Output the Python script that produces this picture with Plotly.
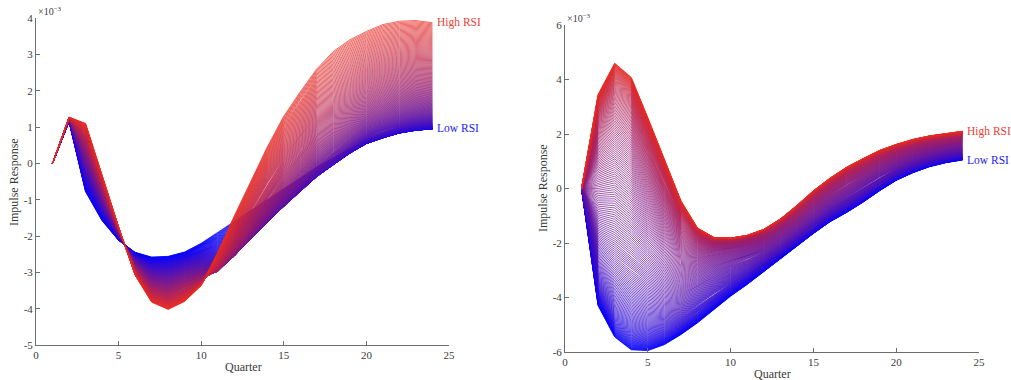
import numpy as np
import plotly.graph_objects as go

# Horizon (quarters after the shock)
quarters = list(range(1, 25))

# Left panel: impulse responses (x 1e-3) at low, middle and high RSI
left_low = [0, 1.15, -0.78, -1.58, -2.12, -2.45, -2.58, -2.56, -2.44, -2.20, -1.90, -1.60,
            -1.30, -1.00, -0.70, -0.40, -0.10, 0.15, 0.40, 0.60, 0.75, 0.87, 0.93, 0.96]
left_mid = [0, 1.21, 0.16, -0.94, -1.93, -2.76, -3.20, -3.29, -3.12, -3.00, -2.95, -2.55,
            -2.05, -1.52, -1.00, -0.50, 0.00, 0.40, 0.78, 1.12, 1.30, 1.45, 1.55, 1.60]
left_high = [0, 1.27, 1.10, -0.30, -1.75, -3.08, -3.82, -4.02, -3.80, -3.36, -2.45, -1.45,
             -0.50, 0.45, 1.30, 1.97, 2.60, 3.08, 3.40, 3.63, 3.82, 3.91, 3.93, 3.87]

# Right panel: impulse responses (x 1e-3) at low, middle and high RSI
right_low = [0, -4.30, -5.45, -5.92, -5.95, -5.73, -5.36, -4.93, -4.44, -3.95, -3.52, -3.05,
             -2.60, -2.10, -1.65, -1.22, -0.88, -0.50, -0.08, 0.30, 0.58, 0.80, 0.95, 1.05]
right_mid = [0, -0.42, -0.42, -0.92, -1.67, -2.34, -2.90, -2.80, -2.60, -2.45, -2.30, -2.10,
             -1.75, -1.36, -0.86, -0.42, -0.05, 0.30, 0.66, 0.96, 1.19, 1.37, 1.49, 1.58]
right_high = [0, 3.45, 4.60, 4.08, 2.60, 1.05, -0.45, -1.45, -1.80, -1.82, -1.72, -1.50,
              -1.12, -0.62, -0.08, 0.38, 0.78, 1.10, 1.40, 1.62, 1.80, 1.93, 2.02, 2.10]

x_ticks = [0, 5, 10, 15, 20, 25]
left_y_ticks = [-5, -4, -3, -2, -1, 0, 1, 2, 3, 4]
right_y_ticks = [-6, -4, -2, 0, 2, 4, 6]

N_LINES = 200
LOW_RGB = np.array([0, 0, 255])
HIGH_RGB = np.array([232, 42, 32])
SERIF = "Liberation Serif"
TEXT_GREY = "#3a3a3a"
W, H = 1011, 380


def transition(s, gamma):
    """Normalised logistic weight on the high-RSI regime."""
    f = 1.0 / (1.0 + np.exp(-gamma * (s - 0.5)))
    lo = 1.0 / (1.0 + np.exp(gamma * 0.5))
    hi = 1.0 / (1.0 + np.exp(-gamma * 0.5))
    return (f - lo) / (hi - lo)


def irf_at(t, low, mid, high):
    low, mid, high = map(np.asarray, (low, mid, high))
    return (low * (1 - t) * (1 - 2 * t)
            + mid * 4 * t * (1 - t)
            + high * t * (2 * t - 1))


fig = go.Figure()
rsi = np.linspace(0.0, 1.0, N_LINES)

panels = [
    ("x", "y", left_low, left_mid, left_high, 1.0),
    ("x2", "y2", right_low, right_mid, right_high, 6.0),
]
for xa, ya, low, mid, high, gamma in panels:
    for s in rsi:
        t = transition(s, gamma)
        rgb = (LOW_RGB * (1 - s) + HIGH_RGB * s).round().astype(int)
        fig.add_trace(go.Scatter(
            x=quarters, y=irf_at(t, low, mid, high),
            mode="lines",
            line=dict(color=f"rgb({rgb[0]},{rgb[1]},{rgb[2]})", width=0.7),
            hoverinfo="skip", showlegend=False,
            xaxis=xa, yaxis=ya,
        ))

axis_common = dict(
    showline=True, linecolor="#6e6e6e", linewidth=1,
    ticks="inside", ticklen=4, tickcolor="#6e6e6e", tickwidth=1,
    showgrid=False, zeroline=False, automargin=False,
    tickfont=dict(family=SERIF, size=11, color=TEXT_GREY),
    mirror=False,
)

fig.update_layout(
    width=W, height=H,
    margin=dict(l=0, r=0, t=0, b=0, autoexpand=False),
    paper_bgcolor="white", plot_bgcolor="white",
    xaxis=dict(domain=[36 / W, 449 / W], range=[0, 25], anchor="y",
               tickvals=x_ticks, ticktext=[str(v) for v in x_ticks], **axis_common),
    yaxis=dict(domain=[1 - 345 / H, 1 - 18 / H], range=[-5, 4], anchor="x",
               tickvals=left_y_ticks, ticktext=[str(v) for v in left_y_ticks], **axis_common),
    xaxis2=dict(domain=[565 / W, 979 / W], range=[0, 25], anchor="y2",
                tickvals=x_ticks, ticktext=[str(v) for v in x_ticks], **axis_common),
    yaxis2=dict(domain=[1 - 352 / H, 1 - 25 / H], range=[-6, 6], anchor="x2",
                tickvals=right_y_ticks, ticktext=[str(v) for v in right_y_ticks], **axis_common),
)

label_font = dict(family=SERIF, size=11.5)


def regime_label(xref, yref, y, text, color):
    return dict(x=quarters[-1], y=y, xref=xref, yref=yref, text=text,
                showarrow=False, xanchor="left", yanchor="middle", xshift=3,
                font=dict(color=color, **label_font))


def paper_text(px, py, text, size=12, angle=0, xanchor="center"):
    return dict(x=px / W, y=1 - py / H, xref="paper", yref="paper", text=text,
                textangle=angle, showarrow=False, xanchor=xanchor, yanchor="middle",
                font=dict(family=SERIF, size=size, color=TEXT_GREY))


annotations = [
    # Regime labels at the last horizon
    regime_label("x", "y", left_high[-1], "High RSI", "rgb(232,62,52)"),
    regime_label("x", "y", left_low[-1], "Low RSI", "rgb(25,25,240)"),
    regime_label("x2", "y2", right_high[-1], "High RSI", "rgb(232,62,52)"),
    regime_label("x2", "y2", right_low[-1], "Low RSI", "rgb(25,25,240)"),
    # Axis titles
    paper_text(14, 182, "Impulse Response", angle=-90),
    paper_text(543, 188, "Impulse Response", angle=-90),
    paper_text(243, 367, "Quarter"),
    paper_text(772, 374, "Quarter"),
    # Scale factor of the y axes
    paper_text(36, 11, "×10<sup>−3</sup>", size=10, xanchor="left"),
    paper_text(565, 18, "×10<sup>−3</sup>", size=10, xanchor="left"),
]
fig.update_layout(annotations=annotations)

fig.write_html("out.html")
